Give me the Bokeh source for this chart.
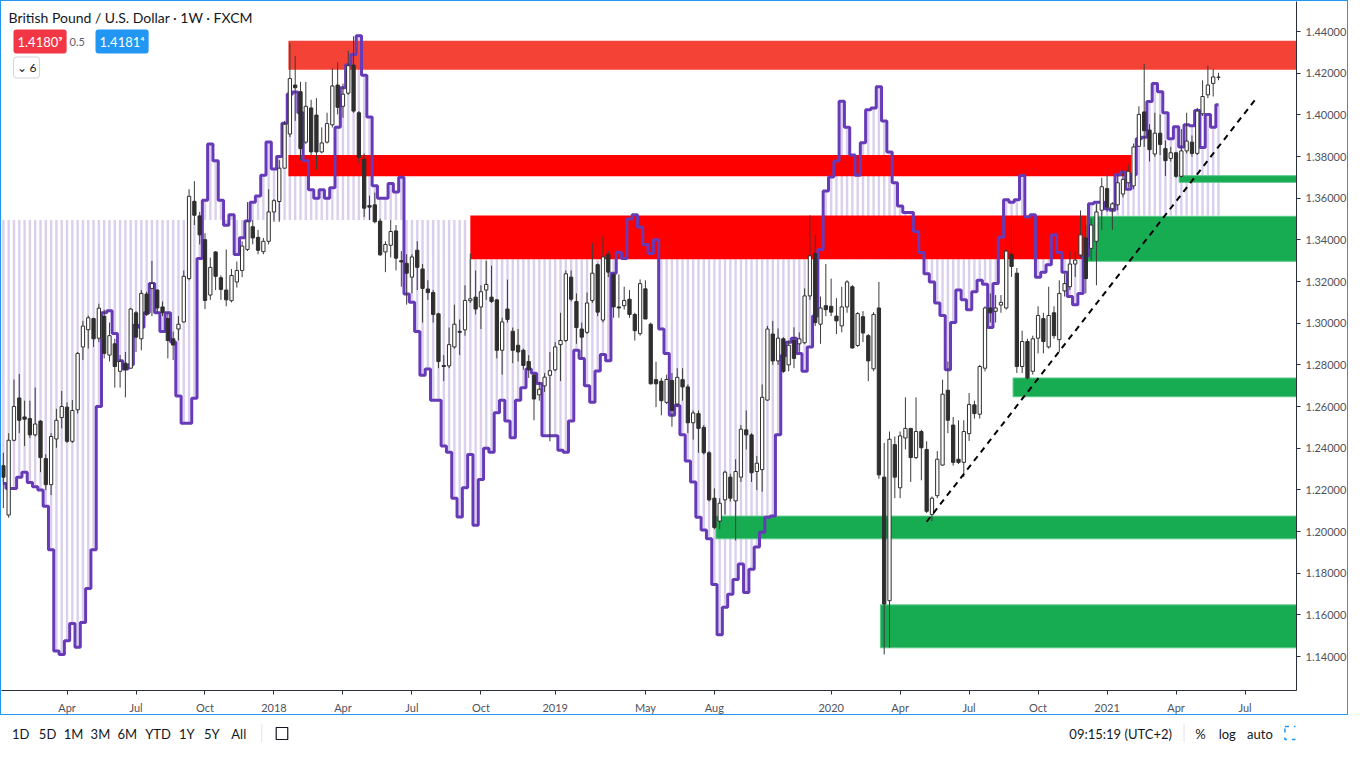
import pandas as pd
from bokeh.plotting import figure
from bokeh.layouts import column
from bokeh.models import (Range1d, FixedTicker, CustomJSTickFormatter, NumeralTickFormatter,
                          Label, ColumnDataSource)
from bokeh.embed import file_html
from bokeh.resources import INLINE
from bokeh.core.properties import value

# ---------------- data ----------------
FIRST_BAR = "2017-01-09"          # weekly bars (Monday dates)
EPOCH = pd.Timestamp("2018-01-01")

opens = [
 1.2316,1.2079,1.2438,1.2641,1.2550,1.2542,1.2464,1.2530,1.2350,1.2225,
 1.2444,1.2547,1.2597,1.2433,1.2584,1.2886,1.2969,1.3022,1.2928,1.3034,
 1.2847,1.2901,1.2769,1.2808,1.2784,1.3050,1.2925,1.3140,1.3167,1.3159,
 1.3078,1.3022,1.2925,1.2972,1.3006,1.3214,1.3585,1.3515,1.3401,1.3135,
 1.3342,1.3218,1.3159,1.3108,1.3198,1.3253,1.3354,1.3463,1.3412,1.3343,
 1.3393,1.3534,1.3584,1.3744,1.3908,1.4143,1.4111,1.3869,1.4033,1.3999,
 1.3822,1.3869,1.3952,1.4143,1.4041,1.4104,1.4239,1.4010,1.3787,1.3565,
 1.3568,1.3490,1.3342,1.3374,1.3443,1.3300,1.3287,1.3221,1.3350,1.3260,
 1.3164,1.3147,1.3045,1.2797,1.2795,1.2886,1.2961,1.2968,1.3108,1.3125,
 1.3078,1.3159,1.3125,1.3112,1.2870,1.3068,1.2961,1.2894,1.2870,1.2816,
 1.2750,1.2656,1.2699,1.2750,1.2776,1.2897,1.2917,1.3221,1.3104,1.2972,
 1.2956,1.3109,1.3281,1.3015,1.3331,1.3234,1.3078,1.3084,1.3115,1.3042,
 1.2950,1.3165,1.2995,1.2729,1.2722,1.2620,1.2725,1.2612,1.2729,1.2694,
 1.2522,1.2566,1.2500,1.2378,1.2160,1.2050,1.2152,1.2261,1.2147,1.2261,
 1.2488,1.2464,1.2288,1.2297,1.2631,1.2948,1.2819,1.2925,1.2800,1.2917,
 1.2901,1.2906,1.3131,1.3334,1.2995,1.3084,1.3081,1.3034,1.2987,1.3078,
 1.3175,1.2893,1.3031,1.2940,1.2781,1.3073,1.2261,1.1668,1.2417,1.2210,
 1.2449,1.2495,1.2355,1.2480,1.2394,1.2082,1.2172,1.2319,1.2678,1.2511,
 1.2347,1.2332,1.2470,1.2608,1.2563,1.2784,1.3073,1.3057,1.3087,1.3073,
 1.3331,1.3240,1.2792,1.2912,1.2769,1.2928,1.3022,1.2886,1.3050,1.2921,
 1.3155,1.3175,1.3284,1.3327,1.3409,1.3359,1.3393,1.3542,1.3646,1.3549,
 1.3568,1.3620,1.3674,1.3659,1.3849,1.4014,1.3927,1.3812,1.3912,1.3838,
 1.3791,1.3818,1.3705,1.3827,1.3869,1.3815,1.4005,1.4096,1.4151,1.4180]

highs = [
 1.2378,1.2472,1.2730,1.2756,1.2628,1.2628,1.2691,1.2534,1.2371,1.2472,
 1.2589,1.2675,1.2620,1.2631,1.2862,1.3011,1.3037,1.3026,1.3093,1.3065,
 1.3003,1.2925,1.2847,1.2862,1.3073,1.3058,1.3159,1.3151,1.3299,1.3162,
 1.3104,1.3050,1.2960,1.3034,1.3253,1.3643,1.3682,1.3534,1.3432,1.3315,
 1.3346,1.3229,1.3354,1.3260,1.3296,1.3393,1.3581,1.3495,1.3448,1.3409,
 1.3643,1.3596,1.3783,1.3971,1.4346,1.4283,1.4158,1.4158,1.4072,1.4080,
 1.3940,1.4010,1.4224,1.4252,1.4150,1.4307,1.4377,1.4018,1.3815,1.3612,
 1.3627,1.3502,1.3393,1.3495,1.3471,1.3346,1.3331,1.3331,1.3393,1.3284,
 1.3206,1.3159,1.3050,1.2847,1.2979,1.3089,1.3018,1.3182,1.3334,1.3253,
 1.3182,1.3299,1.3276,1.3115,1.3026,1.3209,1.2979,1.2972,1.2878,1.2847,
 1.2761,1.2719,1.2761,1.2862,1.2909,1.3050,1.3253,1.3253,1.3143,1.3003,
 1.3147,1.3385,1.3287,1.3417,1.3346,1.3240,1.3234,1.3175,1.3159,1.3050,
 1.3210,1.3206,1.3003,1.2815,1.2737,1.2753,1.2761,1.2784,1.2784,1.2706,
 1.2581,1.2581,1.2511,1.2386,1.2207,1.2160,1.2292,1.2277,1.2347,1.2511,
 1.2581,1.2472,1.2363,1.2706,1.2987,1.3011,1.2975,1.2933,1.2917,1.2980,
 1.2956,1.3167,1.3518,1.3424,1.3128,1.3284,1.3214,1.3120,1.3175,1.3206,
 1.3183,1.3053,1.3058,1.2948,1.3053,1.3198,1.2425,1.2480,1.2456,1.2480,
 1.2644,1.2495,1.2644,1.2488,1.2433,1.2168,1.2386,1.2729,1.2816,1.2550,
 1.2534,1.2534,1.2665,1.2628,1.2800,1.3081,1.3143,1.3135,1.3135,1.3354,
 1.3479,1.3265,1.2964,1.2925,1.2940,1.3081,1.3050,1.3175,1.3081,1.3206,
 1.3237,1.3346,1.3346,1.3541,1.3471,1.3502,1.3573,1.3698,1.3706,1.3581,
 1.3713,1.3737,1.3760,1.3862,1.4041,1.4244,1.3955,1.4010,1.4002,1.3877,
 1.3846,1.3823,1.3932,1.4010,1.3901,1.4033,1.4166,1.4236,1.4220,1.4202]

lows = [
 1.2113,1.2066,1.2433,1.2472,1.2410,1.2449,1.2456,1.2285,1.2199,1.2175,
 1.2402,1.2495,1.2425,1.2425,1.2566,1.2823,1.2878,1.2886,1.2909,1.2831,
 1.2816,1.2691,1.2691,1.2644,1.2784,1.2862,1.2870,1.3034,1.3034,1.3050,
 1.3034,1.2831,1.2823,1.2917,1.3003,1.3206,1.3471,1.3378,1.3068,1.3112,
 1.3159,1.3112,1.3081,1.3100,1.3171,1.3221,1.3346,1.3378,1.3331,1.3331,
 1.3378,1.3487,1.3487,1.3744,1.3893,1.3971,1.3783,1.3861,1.3807,1.3737,
 1.3815,1.3862,1.3940,1.4002,1.3986,1.4096,1.4010,1.3768,1.3510,1.3495,
 1.3479,1.3323,1.3245,1.3315,1.3253,1.3175,1.3089,1.3143,1.3159,1.3003,
 1.3112,1.3003,1.2784,1.2722,1.2784,1.2878,1.2847,1.2940,1.3097,1.3042,
 1.2972,1.3112,1.3097,1.2831,1.2753,1.3003,1.2808,1.2816,1.2777,1.2737,
 1.2534,1.2628,1.2670,1.2433,1.2769,1.2722,1.2909,1.3104,1.2901,1.2831,
 1.2948,1.3097,1.3034,1.3003,1.3221,1.3026,1.3026,1.3065,1.3026,1.2917,
 1.2940,1.3020,1.2706,1.2597,1.2558,1.2612,1.2503,1.2597,1.2628,1.2472,
 1.2441,1.2378,1.2370,1.2144,1.2011,1.2011,1.2082,1.2144,1.1957,1.2238,
 1.2394,1.2238,1.2199,1.2191,1.2628,1.2800,1.2800,1.2761,1.2769,1.2784,
 1.2862,1.2901,1.3112,1.2987,1.2901,1.3034,1.3034,1.2948,1.2956,1.3050,
 1.2878,1.2886,1.2909,1.2722,1.2769,1.2253,1.1410,1.1442,1.2160,1.2160,
 1.2394,1.2238,1.2347,1.2246,1.2089,1.2050,1.2160,1.2316,1.2472,1.2316,
 1.2324,1.2261,1.2435,1.2542,1.2542,1.2769,1.3003,1.3003,1.3050,1.3065,
 1.3222,1.2761,1.2761,1.2730,1.2753,1.2855,1.2855,1.2878,1.2925,1.2862,
 1.3128,1.3159,1.3222,1.3315,1.3143,1.3300,1.3182,1.3448,1.3534,1.3448,
 1.3542,1.3604,1.3651,1.3643,1.3846,1.3846,1.3776,1.3799,1.3807,1.3706,
 1.3776,1.3698,1.3698,1.3815,1.3799,1.3807,1.3994,1.4080,1.4088,1.4166]

closes = [
 1.2261,1.2438,1.2600,1.2534,1.2539,1.2464,1.2516,1.2355,1.2225,1.2456,
 1.2534,1.2600,1.2433,1.2581,1.2855,1.2986,1.3026,1.2925,1.3072,1.2855,
 1.2940,1.2792,1.2816,1.2777,1.3068,1.2933,1.3143,1.3042,1.3190,1.3073,
 1.3050,1.2917,1.2895,1.2995,1.3225,1.3609,1.3518,1.3424,1.3109,1.3268,
 1.3225,1.3162,1.3112,1.3229,1.3253,1.3370,1.3487,1.3409,1.3350,1.3393,
 1.3534,1.3588,1.3744,1.3955,1.4174,1.4130,1.3838,1.4041,1.3822,1.3822,
 1.3865,1.3958,1.4139,1.4036,1.4099,1.4236,1.4018,1.3796,1.3552,1.3557,
 1.3487,1.3328,1.3378,1.3440,1.3312,1.3294,1.3240,1.3318,1.3268,1.3167,
 1.3147,1.3042,1.2816,1.2792,1.2897,1.2995,1.2956,1.3109,1.3117,1.3068,
 1.3151,1.3186,1.3104,1.2870,1.3006,1.3018,1.2870,1.2862,1.2797,1.2777,
 1.2636,1.2683,1.2741,1.2772,1.2886,1.2917,1.3237,1.3115,1.2979,1.2933,
 1.3097,1.3240,1.3053,1.3318,1.3245,1.3078,1.3073,1.3109,1.3042,1.2964,
 1.3190,1.3020,1.2709,1.2709,1.2628,1.2730,1.2581,1.2740,1.2694,1.2522,
 1.2569,1.2495,1.2378,1.2152,1.2019,1.2136,1.2285,1.2160,1.2288,1.2491,
 1.2464,1.2282,1.2328,1.2644,1.2972,1.2819,1.2928,1.2769,1.2894,1.2831,
 1.2925,1.3131,1.3323,1.3003,1.3073,1.3065,1.3053,1.3011,1.3078,1.3198,
 1.2881,1.3046,1.2953,1.2819,1.3042,1.2272,1.1652,1.2443,1.2261,1.2459,
 1.2495,1.2355,1.2480,1.2402,1.2097,1.2160,1.2347,1.2659,1.2534,1.2332,
 1.2332,1.2480,1.2610,1.2566,1.2792,1.3073,1.3050,1.3073,1.3100,1.3346,
 1.3272,1.2792,1.2912,1.2737,1.2925,1.3037,1.2912,1.3037,1.2940,1.3143,
 1.3190,1.3284,1.3303,1.3424,1.3214,1.3471,1.3534,1.3655,1.3557,1.3573,
 1.3674,1.3690,1.3729,1.3846,1.4002,1.3924,1.3833,1.3912,1.3858,1.3780,
 1.3818,1.3705,1.3827,1.3874,1.3815,1.4018,1.4088,1.4143,1.4182,1.4181]

# purple step-line indicator
indicator = [
 1.2230,1.2207,1.2207,1.2261,1.2285,1.2235,1.2215,1.2199,1.2121,1.1913,
 1.1426,1.1410,1.1476,1.1559,1.1444,1.1563,1.1726,1.1913,1.2600,1.3050,
 1.3060,1.2950,1.2820,1.2780,1.2800,1.2990,1.2980,1.3050,1.3190,1.3050,
 1.2960,1.3050,1.2910,1.2650,1.2520,1.2520,1.2640,1.3310,1.3590,1.3860,
 1.3780,1.3590,1.3470,1.3520,1.3330,1.3410,1.3490,1.3580,1.3610,1.3710,
 1.3870,1.3740,1.3800,1.3960,1.4100,1.4110,1.4010,1.3780,1.3640,1.3600,
 1.3640,1.3600,1.3650,1.3940,1.4130,1.4240,1.4290,1.4380,1.4190,1.3990,
 1.3660,1.3600,1.3600,1.3670,1.3630,1.3700,1.3140,1.3100,1.2960,1.2750,
 1.2780,1.2630,1.2630,1.2410,1.2380,1.2160,1.2070,1.2210,1.2370,1.2030,
 1.2250,1.2400,1.2380,1.2570,1.2630,1.2530,1.2450,1.2630,1.2690,1.2780,
 1.2760,1.2710,1.2460,1.2460,1.2460,1.2390,1.2380,1.2530,1.2870,1.2830,
 1.2700,1.2620,1.2770,1.2850,1.2820,1.3240,1.3340,1.3310,1.3500,1.3520,
 1.3460,1.3378,1.3334,1.3401,1.2972,1.2855,1.2558,1.2605,1.2464,1.2339,
 1.2238,1.2069,1.2007,1.1965,1.1746,1.1504,1.1637,1.1699,1.1770,1.1844,
 1.1707,1.1819,1.1926,1.1996,1.2069,1.2074,1.2464,1.2844,1.2909,1.2928,
 1.2855,1.2769,1.2886,1.3034,1.3354,1.3635,1.3702,1.3779,1.4065,1.3940,
 1.3807,1.3710,1.3866,1.4025,1.4033,1.4135,1.3971,1.3822,1.3674,1.3562,
 1.3531,1.3531,1.3440,1.3339,1.3237,1.3198,1.3097,1.3037,1.2776,1.3003,
 1.3159,1.3112,1.3065,1.3151,1.3206,1.3187,1.2979,1.3190,1.3412,1.3593,
 1.3581,1.3593,1.3709,1.3510,1.3521,1.3221,1.3245,1.3281,1.3424,1.3339,
 1.3245,1.3128,1.3089,1.3143,1.3323,1.3573,1.3581,1.3581,1.3549,1.3542,
 1.3713,1.3724,1.3643,1.3713,1.3885,1.3893,1.4064,1.4150,1.4111,1.4010,
 1.3885,1.3943,1.3846,1.3952,1.3948,1.4021,1.3843,1.4002,1.3940,1.4049]

# baseline of the hatched columns (changes at these dates)
baseline_starts = ["2017-01-09", "2018-09-17", "2020-12-14"]
baseline_levels = [1.3495, 1.3307, 1.3517]

# time-axis labels
x_tick_dates = ["2017-04-03", "2017-07-03", "2017-10-02", "2018-01-01", "2018-04-02",
                "2018-07-02", "2018-10-01", "2019-01-07", "2019-05-06", "2019-08-05",
                "2020-01-06", "2020-04-06", "2020-07-06", "2020-10-05", "2021-01-04",
                "2021-04-05", "2021-07-05"]
x_tick_labels = ["Apr", "Jul", "Oct", "2018", "Apr", "Jul", "Oct", "2019", "May", "Aug",
                 "2020", "Apr", "Jul", "Oct", "2021", "Apr", "Jul"]
y_ticks = [1.14, 1.16, 1.18, 1.20, 1.22, 1.24, 1.26, 1.28, 1.30, 1.32,
           1.34, 1.36, 1.38, 1.40, 1.42, 1.44]

# supply (red) zones
supply_starts = ["2018-01-20", "2018-01-20", "2018-09-17"]
supply_ends = [None, "2021-02-05", "2020-12-08"]
supply_bottoms = [1.4216, 1.3705, 1.3307]
supply_tops = [1.4356, 1.3807, 1.3517]
# demand (green) zones
demand_starts = ["2021-04-09", "2020-12-08", "2020-09-02", "2019-08-07", "2020-03-11"]
demand_bottoms = [1.3676, 1.3297, 1.2647, 1.1965, 1.1442]
demand_tops = [1.3708, 1.3513, 1.2737, 1.2074, 1.1648]

# trend line
trend_dates = ["2020-05-11", "2021-07-18"]
trend_prices = [1.2047, 1.4071]

# ---------------- build ----------------
def bar_index(d):
    return (pd.Timestamp(d) - EPOCH).days / 7.0

dates = pd.date_range(FIRST_BAR, periods=len(opens), freq="7D")
xs = [bar_index(d) for d in dates]
base_x = [bar_index(d) for d in baseline_starts]
bases = []
for x in xs:
    lvl = baseline_levels[0]
    for bx, bl in zip(base_x, baseline_levels):
        if x >= bx:
            lvl = bl
    bases.append(lvl)

XMIN, XMAX = -51.35, 192.7
RIGHT_EDGE = XMAX + 20

up = [c >= o for o, c in zip(opens, closes)]
def sel(lst, flag):
    return [v for v, u in zip(lst, up) if u == flag]

body_top = [max(o, c) for o, c in zip(opens, closes)]
body_bot = [min(o, c) for o, c in zip(opens, closes)]
wick_hi = [max(h, t) for h, t in zip(highs, body_top)]
wick_lo = [min(l, b) for l, b in zip(lows, body_bot)]

FONT = "Lato"
W, H = 1348, 715
RB, BB = 50, 26
FW, FH = W - RB, H - BB

p = figure(width=W, height=H, x_range=Range1d(XMIN, XMAX), y_range=Range1d(1.1237, 1.4544),
           y_axis_location="right", output_backend="svg", toolbar_location=None,
           min_border_left=0, min_border_right=RB, min_border_top=0, min_border_bottom=BB)
p.xgrid.visible = False
p.ygrid.visible = False
p.outline_line_color = None
p.background_fill_color = "white"
p.border_fill_color = "white"
p.styles = {"border": "1px solid #2196f3"}

tick_pos = [bar_index(d) for d in x_tick_dates]
p.xaxis.ticker = FixedTicker(ticks=tick_pos)
p.xaxis.formatter = CustomJSTickFormatter(args=dict(pos=tick_pos, lab=x_tick_labels), code="""
for (let i = 0; i < pos.length; i++) { if (Math.abs(pos[i] - tick) < 1e-6) return lab[i]; }
return '';""")
p.yaxis.ticker = FixedTicker(ticks=y_ticks)
p.yaxis.formatter = NumeralTickFormatter(format="0.00000")
for ax in (p.xaxis[0], p.yaxis[0]):
    ax.major_label_text_font = FONT
    ax.major_label_text_font_size = "11px"
    ax.major_label_text_color = "#4f525c"
    ax.axis_line_color = "#2a2e39"
    ax.major_tick_line_color = "#2a2e39"
    ax.major_tick_out = 4
    ax.major_tick_in = 0
    ax.minor_tick_line_color = None
p.xaxis.major_label_standoff = 6
p.yaxis.major_label_standoff = 5

GREEN = "#17ab52"
src = ColumnDataSource(dict(x=xs, ind=indicator, base=bases))
# hatched columns
p.vbar(x="x", width=0.45, bottom="base", top="ind", fill_color="#d1c4e9", fill_alpha=0.8,
       line_color=None, source=src)

# demand zones
p.quad(left=[bar_index(d) for d in demand_starts], right=[RIGHT_EDGE] * len(demand_starts),
       bottom=demand_bottoms, top=demand_tops, fill_color=GREEN, line_color="#5cc88a",
       line_width=1)

# supply zones
sup_colors = ["#f44336", "#ff0000", "#ff0000"]
p.quad(left=[bar_index(d) for d in supply_starts],
       right=[RIGHT_EDGE if e is None else bar_index(e) for e in supply_ends],
       bottom=supply_bottoms, top=supply_tops, fill_color=sup_colors, line_color=None)

# indicator step line
p.step("x", "ind", mode="center", line_color="#673ab7", line_width=3, source=src)

# candles
p.segment(x0=xs, y0=wick_hi, x1=xs, y1=wick_lo, line_color="#3c3c3c", line_width=1)
p.vbar(x=sel(xs, False), width=0.62, top=sel(body_top, False), bottom=sel(body_bot, False),
       fill_color="#2e2e2e", line_color="#2e2e2e", line_width=1)
p.vbar(x=sel(xs, True), width=0.62, top=sel(body_top, True), bottom=sel(body_bot, True),
       fill_color="white", line_color="#2e2e2e", line_width=1)

# trend line
p.line([bar_index(d) for d in trend_dates], trend_prices, line_color="black", line_width=2,
       line_dash="6 5")

# legend / header
p.add_layout(Label(x=7, y=FH - 16, x_units="screen", y_units="screen",
                   text="British Pound / U.S. Dollar · 1W · FXCM", text_font=FONT,
                   text_font_size="14px", text_color="#131722", text_baseline="middle"))
p.add_layout(Label(x=12, y=FH - 40, x_units="screen", y_units="screen", text="1.4180⁹",
                   text_font=FONT, text_font_size="13px", text_color="white",
                   text_baseline="middle", background_fill_color="#f23645",
                   padding=4, border_radius=3))
p.add_layout(Label(x=68, y=FH - 40, x_units="screen", y_units="screen", text="0.5",
                   text_font=FONT, text_font_size="11px", text_color="#5d606b",
                   text_baseline="middle"))
p.add_layout(Label(x=94, y=FH - 40, x_units="screen", y_units="screen", text="1.4181⁴",
                   text_font=FONT, text_font_size="13px", text_color="white",
                   text_baseline="middle", background_fill_color="#2196f3",
                   padding=4, border_radius=3))
p.add_layout(Label(x=12, y=FH - 66, x_units="screen", y_units="screen", text="⌄ 6",
                   text_font=FONT, text_font_size="12px", text_color="#131722",
                   text_baseline="middle", background_fill_color="white",
                   border_line_color="#d1d4dc", padding=3, border_radius=3))

# bottom toolbar
tb = figure(width=W, height=35, x_range=Range1d(0, W), y_range=Range1d(0, 35),
            x_axis_type=None, y_axis_type=None, output_backend="svg", toolbar_location=None,
            min_border=0)
tb.outline_line_color = None
tb.xgrid.visible = False
tb.ygrid.visible = False
range_buttons = ["1D", "5D", "1M", "3M", "6M", "YTD", "1Y", "5Y", "All"]
tb.text(x=[21, 49, 76, 104, 132, 164, 194, 220, 248], y=[17] * 9, text=range_buttons,
        text_font=value(FONT), text_font_size="13px", text_color="#131722",
        text_align="center", text_baseline="middle")
tb.segment(x0=[272, 1232], y0=[8, 8], x1=[272, 1232], y1=[27, 27], line_color="#e0e3eb")
tb.quad(left=[287], right=[299], bottom=[11], top=[23], fill_color=None,
        line_color="#131722", line_width=1.2)
tb.text(x=[1166, 1249, 1277, 1311], y=[17] * 4, text=["09:15:19 (UTC+2)", "%", "log", "auto"],
        text_font=value(FONT), text_font_size="13px", text_color="#131722",
        text_align="center", text_baseline="middle")
tb.quad(left=[1337], right=[1350], bottom=[11], top=[24], fill_color=None,
        line_color="#2196f3", line_width=1.5, line_dash="4 5")

layout = column(p, tb, spacing=0)
open("out.html", "w").write(file_html(layout, INLINE))
